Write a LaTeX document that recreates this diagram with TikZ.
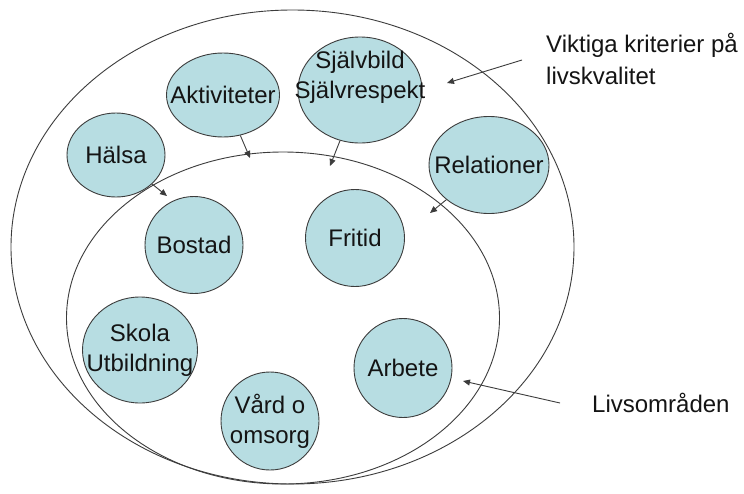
\documentclass[tikz,border=0pt]{standalone}
\usepackage{fontspec}
\setmainfont{Liberation Sans}
\usetikzlibrary{shapes.geometric,arrows.meta}
\definecolor{bubfill}{RGB}{183,221,226}
\definecolor{edgec}{RGB}{60,60,60}
\definecolor{ink}{RGB}{20,20,20}
\begin{document}
\begin{tikzpicture}[x=1pt,y=-1pt,
  bub/.style={ellipse,draw=edgec,line width=0.9pt,fill=bubfill,inner sep=0pt},
  txt/.style={text=ink,font=\fontsize{24}{30}\selectfont,align=center,inner sep=0pt},
  ring/.style={draw=edgec,line width=0.9pt},
  arr/.style={draw=edgec,line width=0.9pt,-{Triangle[length=7pt,width=6pt]}}]
\useasboundingbox (0,0) rectangle (744,493);
\fill[white] (0,0) rectangle (744,493);
% bubbles
\node[bub,minimum width=113pt,minimum height=84pt] (akt) at (223,95) {};
\node[bub,minimum width=124pt,minimum height=106pt] (sj) at (360,90) {};
\node[bub,minimum width=98pt,minimum height=84pt] (hal) at (116,155) {};
\node[bub,minimum width=120pt,minimum height=97pt] (rel) at (489,165) {};
\node[bub,minimum width=98pt,minimum height=97pt] (bos) at (194,245) {};
\node[bub,minimum width=99pt,minimum height=97pt] (fri) at (355,238) {};
\node[bub,minimum width=115pt,minimum height=106pt] (sko) at (140,350) {};
\node[bub,minimum width=98pt,minimum height=98pt] (vard) at (270,421) {};
\node[bub,minimum width=98pt,minimum height=99pt] (arb) at (403,368) {};
% texts
\node[txt] (aktT) at (akt.center) {Aktiviteter};
\node[txt] (sjT) at (360,77) {Självbild\\Självrespekt};
\node[txt] (halT) at (hal.center) {Hälsa};
\node[txt] (relT) at (rel.center) {Relationer};
\node[txt] (bosT) at (bos.center) {Bostad};
\node[txt] (friT) at (fri.center) {Fritid};
\node[txt] (skoT) at (sko.center) {Skola\\Utbildning};
\node[txt] (vardT) at (vard.center) {Vård o\\omsorg};
\node[txt] (arbT) at (arb.center) {Arbete};
% rings
\draw[ring] (292.5,247) ellipse [x radius=281.5pt, y radius=237pt];
\draw[ring] (283,318) ellipse [x radius=216.5pt, y radius=166pt];
% side labels
\node[txt,anchor=west,align=left,font=\fontsize{24}{32}\selectfont] (vk) at (546,59) {Viktiga kriterier på\\livskvalitet};
\node[txt,anchor=west] (lo) at (592,403) {Livsområden};
% arrow ends
\coordinate (tA) at (250,158);
\coordinate (tS) at (330,166);
\coordinate (tH) at (167,196);
\coordinate (tR) at (430,213);
\coordinate (vkS) at (522,60);
\coordinate (vkT) at (447,83);
\coordinate (loS) at (560,403);
\coordinate (loT) at (463,381);
\draw[arr] (akt) -- (tA);
\draw[arr] (sj) -- (tS);
\draw[arr] (hal) -- (tH);
\draw[arr] (rel) -- (tR);
\draw[arr] (vkS) -- (vkT);
\draw[arr] (loS) -- (loT);
\end{tikzpicture}
\end{document}
